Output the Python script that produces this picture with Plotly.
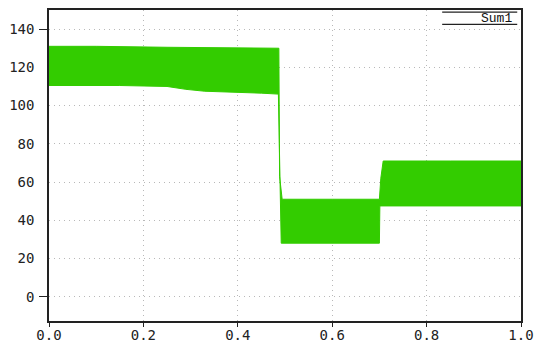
import plotly.graph_objects as go

# Envelope of the switching signal "Sum1": upper and lower edges of the ripple band
t_upper = [0.000, 0.100, 0.250, 0.400, 0.487, 0.4885, 0.491, 0.494, 0.600, 0.700, 0.703, 0.708, 0.850, 1.000]
y_upper = [131.0, 131.0, 130.5, 130.0, 130.0, 63.0, 56.0, 51.0, 51.0, 51.0, 62.0, 71.0, 71.0, 71.0]

t_lower = [0.000, 0.150, 0.250, 0.290, 0.330, 0.400, 0.450, 0.486, 0.4885, 0.4895, 0.492, 0.600, 0.700, 0.701, 0.850, 1.000]
y_lower = [110.5, 110.5, 110.0, 108.5, 107.5, 107.0, 106.5, 106.0, 70.0, 60.0, 28.0, 28.0, 28.0, 47.5, 47.5, 47.5]

x_ticks = [0.0, 0.2, 0.4, 0.6, 0.8, 1.0]
x_labels = ["0.0", "0.2", "0.4", "0.6", "0.8", "1.0"]
y_ticks = [0, 20, 40, 60, 80, 100, 120, 140]
y_labels = ["0", "20", "40", "60", "80", "100", "120", "140"]

GREEN = "#33cc00"

fig = go.Figure()

# closed polygon: upper edge left-to-right, lower edge right-to-left
poly_x = t_upper + t_lower[::-1]
poly_y = y_upper + y_lower[::-1]
fig.add_trace(go.Scatter(
    x=poly_x, y=poly_y, mode="lines", fill="toself",
    fillcolor=GREEN, line=dict(color=GREEN, width=1),
    name="Sum1", showlegend=False, hoverinfo="skip",
))

tick_font = dict(family="DejaVu Sans Mono", size=14, color="#222222")
grid = dict(showgrid=True, gridcolor="#b8b8b8", griddash="1px,4px", gridwidth=1)

fig.update_xaxes(
    range=[0, 1], tickvals=x_ticks, ticktext=x_labels, **grid,
    showline=True, linecolor="#222222", linewidth=1.5, mirror=True,
    ticks="outside", ticklen=4, tickcolor="#222222", ticklabelstandoff=-4,
    tickfont=tick_font, zeroline=False, automargin=False,
)
fig.update_yaxes(
    range=[-12.7, 150], tickvals=y_ticks, ticktext=y_labels, **grid,
    showline=True, linecolor="#222222", linewidth=1.5, mirror=True,
    ticks="", ticklabelstandoff=10,
    minor=dict(tickmode="array", tickvals=[0, 140], ticks="outside",
               ticklen=8, tickcolor="#222222", showgrid=False),
    tickfont=tick_font, zeroline=False, automargin=False,
)

# legend box with the signal name
fig.add_shape(type="line", xref="paper", yref="paper",
              x0=0.833, x1=0.992, y0=0.993, y1=0.993,
              line=dict(color="#222222", width=1.2))
fig.add_shape(type="line", xref="paper", yref="paper",
              x0=0.833, x1=0.992, y0=0.954, y1=0.954,
              line=dict(color="#222222", width=1.2))
fig.add_annotation(text="Sum1", xref="paper", yref="paper",
                   x=0.985, y=0.974, xanchor="right", yanchor="middle",
                   showarrow=False,
                   font=dict(family="Liberation Mono", size=13, color="#111111"))

fig.update_layout(
    width=539, height=342, autosize=False,
    margin=dict(l=49, r=18, t=10, b=21, pad=0),
    paper_bgcolor="white", plot_bgcolor="white",
    showlegend=False,
)

fig.write_html("out.html")
